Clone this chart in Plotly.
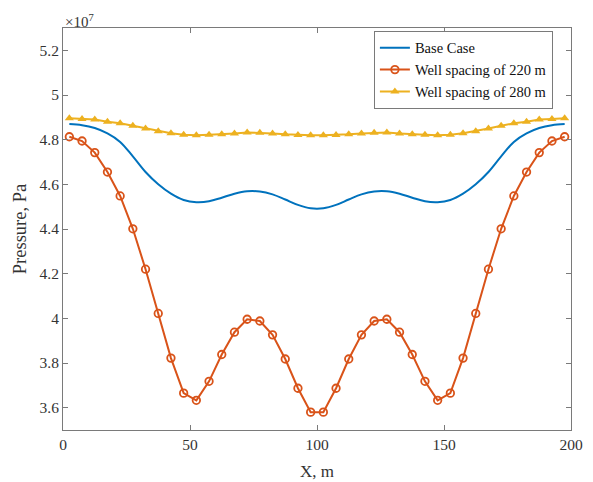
import plotly.graph_objects as go

# x positions (m)
x_pts = [2.5 + 5 * i for i in range(40)]

# Pressure values in units of 1e7 Pa
base_case = [4.870, 4.865, 4.852, 4.828, 4.790, 4.725, 4.655, 4.600, 4.558, 4.530,
             4.520, 4.524, 4.540, 4.558, 4.569, 4.568, 4.555, 4.532, 4.508, 4.493,
             4.493, 4.508, 4.532, 4.555, 4.568, 4.569, 4.558, 4.540, 4.524, 4.520,
             4.530, 4.558, 4.600, 4.655, 4.725, 4.790, 4.828, 4.852, 4.865, 4.870]

spacing_220 = [4.813, 4.794, 4.742, 4.655, 4.548, 4.401, 4.220, 4.022, 3.822, 3.665,
               3.633, 3.718, 3.838, 3.938, 3.996, 3.988, 3.926, 3.818, 3.687, 3.580,
               3.580, 3.687, 3.818, 3.926, 3.988, 3.996, 3.938, 3.838, 3.718, 3.633,
               3.665, 3.822, 4.022, 4.220, 4.401, 4.548, 4.655, 4.742, 4.794, 4.813]

spacing_280 = [4.896, 4.893, 4.890, 4.880, 4.873, 4.862, 4.850, 4.838, 4.829, 4.822,
               4.820, 4.822, 4.824, 4.828, 4.832, 4.831, 4.828, 4.824, 4.821, 4.820,
               4.820, 4.821, 4.824, 4.828, 4.831, 4.832, 4.828, 4.824, 4.822, 4.820,
               4.822, 4.829, 4.838, 4.850, 4.862, 4.873, 4.880, 4.890, 4.893, 4.896]

y_ticks = [3.6, 3.8, 4.0, 4.2, 4.4, 4.6, 4.8, 5.0, 5.2]
y_tick_labels = ["3.6", "3.8", "4", "4.2", "4.4", "4.6", "4.8", "5", "5.2"]
x_ticks = [0, 50, 100, 150, 200]

BLUE = "#0072BD"
RED = "#D95319"
YELLOW = "#EDB120"
AXIS = "#7a7a7a"
TEXT = "#333333"
FONT = "Liberation Serif"

fig = go.Figure()
fig.add_trace(go.Scatter(x=x_pts, y=base_case, mode="lines", name="Base Case",
                         line=dict(color=BLUE, width=2, shape="spline")))
fig.add_trace(go.Scatter(x=x_pts, y=spacing_220, mode="lines+markers",
                         name="Well spacing of 220 m",
                         line=dict(color=RED, width=2),
                         marker=dict(symbol="circle-open", size=7.5, color=RED,
                                     line=dict(width=1.8, color=RED))))
fig.add_trace(go.Scatter(x=x_pts, y=spacing_280, mode="lines+markers",
                         name="Well spacing of 280 m",
                         line=dict(color=YELLOW, width=2),
                         marker=dict(symbol="triangle-up", size=8, color=YELLOW)))

axis_common = dict(showline=True, linecolor=AXIS, linewidth=1, mirror="ticks",
                   ticks="inside", ticklen=5, tickcolor=AXIS, showgrid=False,
                   zeroline=False, automargin=False,
                   tickfont=dict(family=FONT, size=15.5, color=TEXT))

fig.update_xaxes(range=[0, 200], tickvals=x_ticks,
                 title=dict(text="X, m", font=dict(family=FONT, size=17, color=TEXT),
                            standoff=13),
                 **axis_common)
fig.update_yaxes(range=[3.5, 5.3], tickvals=y_ticks, ticktext=y_tick_labels,
                 title=dict(text="Pressure, Pa", font=dict(family=FONT, size=18.5, color=TEXT),
                            standoff=8),
                 **axis_common)

fig.add_annotation(xref="paper", yref="paper", x=0, y=1, xanchor="left", yanchor="bottom",
                   yshift=-4, text="×10<sup>7</sup>", showarrow=False,
                   font=dict(family=FONT, size=15, color=TEXT))

# The page body has an 8px margin, so the figure is sized to fit the window.
fig.update_layout(
    width=585, height=474,
    margin=dict(l=55, r=22, t=20, b=52),
    paper_bgcolor="white", plot_bgcolor="white",
    font=dict(family=FONT, color=TEXT),
    legend=dict(x=0.612, y=0.993, xanchor="left", yanchor="top",
                bgcolor="white", bordercolor=AXIS, borderwidth=1,
                font=dict(family=FONT, size=14.5, color="#111111"),
                tracegroupgap=0, itemwidth=30),
    showlegend=True,
)

fig.write_html("out.html")
